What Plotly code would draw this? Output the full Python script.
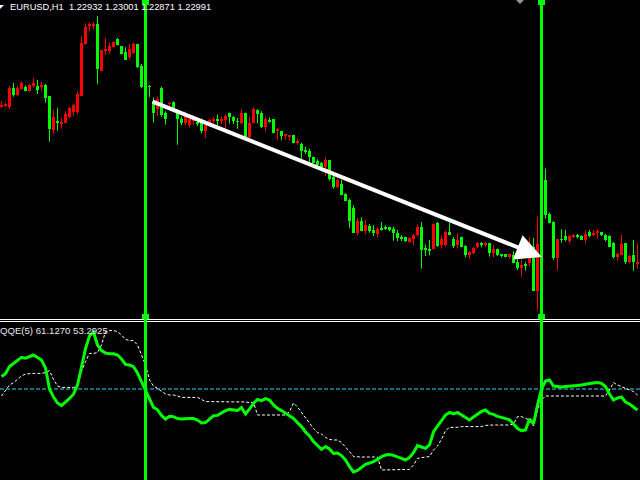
import plotly.graph_objects as go

# ---------------- data ----------------
HEADER_TEXT = "EURUSD,H1  1.22932 1.23001 1.22871 1.22991"
QQE_TEXT = "QQE(5) 61.1270 53.2925"

# price in points (1 point = 1 screen unit of the price scale)
open_ = [193.0, 194.0, 192.7, 212.0, 205.3, 211.0, 213.0, 209.3, 214.0, 214.0,
         212.7, 214.7, 204.0, 170.0, 178.0, 176.7, 177.3, 183.3, 188.0, 188.0,
         204.0, 256.0, 274.0, 274.0, 276.0, 229.3, 249.3, 249.3, 253.3, 260.7,
         254.0, 248.0, 243.3, 246.7, 256.0, 234.0, 214.0, 213.7, 199.5, 191.0,
         212.0, 186.7, 196.0, 198.0, 190.0, 180.7, 177.3, 174.7, 179.3, 178.0,
         180.0, 169.3, 176.7, 179.3, 180.0, 179.3, 180.0, 186.7, 182.7, 178.7,
         176.7, 187.3, 162.7, 177.3, 190.0, 187.3, 173.3, 180.0, 180.7, 169.3,
         169.3, 164.7, 163.3, 164.7, 157.3, 156.0, 150.0, 149.3, 142.7, 138.7,
         137.3, 133.3, 140.0, 122.7, 112.7, 116.0, 106.0, 100.0, 92.0, 67.3,
         78.7, 68.7, 74.0, 70.0, 66.0, 72.0, 72.7, 72.7, 71.3, 66.7,
         63.3, 62.7, 58.0, 61.3, 64.7, 73.3, 52.0, 51.3, 51.3, 76.7,
         54.7, 55.3, 68.0, 61.3, 54.7, 62.7, 54.0, 45.3, 47.3, 53.3,
         57.3, 54.7, 56.7, 46.7, 50.7, 46.0, 46.0, 43.3, 44.7, 38.0,
         32.0, 36.0, 36.7, 52.7, 9.3, 54.0, 120.0, 86.0, 78.0, 42.0,
         60.7, 64.0, 58.7, 63.3, 64.7, 64.0, 60.0, 68.0, 64.7, 66.7,
         68.0, 64.7, 64.0, 57.3, 43.3, 45.3, 56.7, 38.0, 44.7, 36.0]
high = [199.0, 197.0, 214.0, 217.0, 214.0, 218.7, 214.7, 216.0, 222.0, 220.0,
        218.0, 216.0, 204.0, 190.0, 192.0, 182.0, 188.7, 192.7, 196.7, 208.7,
        264.0, 276.7, 277.3, 278.0, 284.0, 250.0, 262.0, 257.3, 258.7, 262.0,
        254.0, 252.7, 256.0, 257.3, 256.0, 236.0, 216.0, 215.0, 202.5, 203.5,
        213.3, 188.7, 198.0, 198.7, 190.7, 183.3, 188.7, 182.0, 182.7, 181.0,
        181.3, 176.0, 181.3, 183.3, 185.3, 183.3, 185.3, 187.3, 184.0, 182.0,
        190.7, 187.3, 183.3, 192.7, 190.7, 188.7, 183.3, 182.7, 180.7, 172.0,
        169.3, 166.0, 164.7, 165.3, 161.3, 157.3, 153.3, 151.3, 143.3, 140.7,
        138.0, 142.7, 140.0, 126.7, 121.3, 120.0, 106.7, 101.3, 94.7, 82.0,
        82.7, 80.0, 76.0, 74.7, 72.7, 78.0, 74.7, 73.3, 73.3, 70.0,
        64.7, 63.3, 62.7, 66.0, 75.3, 78.0, 55.3, 60.0, 76.7, 78.0,
        64.7, 69.3, 77.3, 62.7, 66.7, 63.3, 54.7, 48.7, 53.3, 58.0,
        58.0, 58.0, 57.3, 54.7, 51.3, 46.0, 46.0, 46.7, 48.7, 44.7,
        42.7, 38.0, 62.7, 62.0, 83.3, 125.0, 131.3, 87.3, 78.7, 60.7,
        70.7, 70.0, 64.7, 66.0, 66.0, 64.7, 69.3, 70.0, 70.0, 70.7,
        68.0, 66.0, 64.7, 58.0, 47.3, 65.3, 56.7, 45.3, 60.0, 56.7]
low = [192.7, 193.3, 191.0, 203.3, 204.0, 210.7, 208.7, 208.0, 212.7, 206.0,
       209.3, 197.3, 158.3, 166.0, 169.3, 171.3, 176.7, 182.0, 184.0, 186.0,
       204.0, 255.3, 268.7, 270.7, 216.0, 229.3, 245.3, 246.0, 252.7, 254.7,
       245.3, 240.0, 240.7, 246.0, 232.0, 212.0, 208.0, 203.0, 177.5, 184.0,
       183.3, 175.3, 192.0, 189.3, 155.3, 174.7, 174.7, 172.7, 175.3, 174.0,
       166.7, 162.0, 173.3, 176.7, 174.7, 176.0, 170.0, 176.7, 176.0, 171.3,
       175.3, 162.0, 161.3, 177.3, 176.7, 172.0, 168.7, 177.3, 166.7, 160.0,
       160.0, 160.7, 159.3, 156.7, 155.3, 140.0, 146.0, 137.3, 136.7, 133.3,
       130.7, 124.0, 119.3, 111.3, 111.3, 104.7, 98.7, 72.0, 67.3, 64.7,
       68.7, 66.0, 67.3, 64.0, 62.7, 69.3, 70.0, 68.7, 59.3, 58.7,
       58.7, 58.0, 57.3, 54.7, 64.0, 31.3, 44.0, 44.7, 50.7, 53.3,
       51.3, 53.3, 64.7, 52.0, 51.3, 52.7, 42.7, 41.3, 46.0, 52.0,
       52.7, 53.3, 43.3, 42.7, 44.0, 42.7, 42.7, 41.3, 36.7, 30.0,
       23.3, 29.3, 34.0, 9.3, -10.0, 50.0, 81.3, 76.7, 40.0, 30.0,
       57.3, 58.7, 56.7, 62.0, 61.3, 60.0, 56.7, 62.7, 64.0, 61.3,
       64.0, 58.7, 52.7, 41.3, 39.3, 44.7, 36.0, 36.7, 29.3, 31.3]
close = [195.3, 196.0, 212.0, 205.3, 212.0, 217.0, 209.3, 214.7, 217.0, 210.0,
         214.7, 202.0, 171.3, 182.7, 177.3, 178.0, 186.0, 192.0, 194.7, 206.0,
         257.3, 272.7, 276.0, 276.0, 231.3, 250.0, 251.3, 254.0, 258.0, 255.3,
         246.0, 240.0, 250.7, 256.0, 232.7, 212.7, 210.0, 213.0, 187.3, 201.5,
         185.3, 181.3, 196.7, 190.0, 181.3, 176.7, 184.7, 180.7, 180.7, 176.0,
         168.7, 174.7, 180.0, 180.7, 179.3, 181.3, 184.0, 182.7, 178.7, 178.0,
         187.3, 162.7, 177.3, 190.7, 186.0, 172.7, 181.3, 178.7, 167.3, 170.0,
         164.0, 166.0, 164.7, 157.3, 159.3, 149.3, 148.7, 142.7, 137.3, 134.7,
         132.7, 140.0, 121.3, 112.7, 120.0, 105.3, 99.3, 78.7, 67.3, 78.7,
         69.3, 74.7, 69.3, 67.3, 70.7, 70.7, 71.3, 70.0, 66.7, 62.0,
         61.3, 58.7, 62.0, 64.7, 72.7, 50.0, 50.7, 49.3, 76.0, 54.0,
         61.3, 68.0, 65.3, 54.0, 60.0, 53.3, 45.3, 48.0, 52.0, 56.7,
         54.7, 56.7, 46.7, 51.3, 44.7, 44.7, 43.3, 46.0, 37.3, 32.0,
         35.3, 34.0, 42.7, 9.3, 56.0, 110.0, 85.3, 77.3, 42.0, 60.7,
         60.0, 60.0, 64.0, 64.7, 63.3, 60.0, 66.0, 64.0, 67.3, 68.7,
         64.7, 60.0, 53.3, 43.3, 46.0, 56.0, 38.0, 44.0, 38.0, 38.0]

qqe_rsi = [56.2, 57.6, 61.2, 62.7, 64.2, 65.8, 65.4, 66.2, 67.0, 65.8,
           64.5, 60.5, 50.0, 46.0, 43.0, 41.7, 43.4, 45.3, 47.4, 52.0,
           61.0, 70.2, 76.5, 78.5, 72.0, 69.2, 68.0, 67.6, 67.6, 67.0,
           65.0, 62.3, 62.0, 61.2, 58.0, 53.7, 48.7, 45.0, 40.8, 39.6,
           36.8, 35.0, 36.4, 36.2, 35.2, 35.0, 35.2, 35.2, 35.2, 34.5,
           33.0, 33.2, 34.9, 36.6, 36.8, 38.2, 39.2, 39.8, 39.5, 39.3,
           40.7, 37.5, 40.0, 42.8, 44.8, 44.2, 45.2, 44.5, 42.0, 40.3,
           39.2, 37.8, 36.5, 35.3, 33.2, 31.2, 28.5, 26.5, 23.7, 21.5,
           19.8, 21.2, 20.0, 17.8, 18.0, 16.7, 14.5, 11.2, 8.5, 9.3,
           10.8, 12.3, 13.0, 13.7, 14.8, 16.2, 17.0, 17.2, 16.8, 16.2,
           15.3, 14.5, 15.8, 18.2, 21.7, 21.0, 20.3, 22.0, 28.5, 31.5,
           34.0, 37.0, 38.3, 37.6, 38.3, 37.0, 35.8, 34.5, 36.0, 37.3,
           38.8, 39.5, 37.8, 37.3, 36.3, 35.8, 35.3, 34.6, 32.5, 30.2,
           29.2, 29.5, 35.0, 32.5, 42.0, 50.0, 54.0, 54.5, 51.5, 51.2,
           51.0, 51.2, 51.5, 51.8, 51.8, 52.0, 52.5, 52.7, 53.0, 53.2,
           52.8, 51.2, 47.5, 44.5, 45.5, 46.0, 43.5, 42.5, 41.0, 39.4]
qqe_trail = [46.5, 49.2, 52.0, 53.2, 54.8, 56.5, 57.5, 57.8, 57.8, 57.8,
             57.8, 58.2, 59.2, 54.8, 51.5, 50.8, 50.8, 50.8, 50.8, 51.2,
             58.7, 63.7, 67.8, 67.8, 68.2, 72.0, 78.7, 79.2, 79.2, 78.7,
             77.0, 74.8, 74.2, 74.2, 72.0, 67.0, 62.0, 54.5, 51.5, 50.3,
             48.7, 47.5, 47.0, 47.0, 46.5, 45.8, 45.8, 45.8, 45.8, 45.8,
             44.8, 43.7, 43.7, 43.7, 43.7, 43.7, 43.7, 43.7, 43.7, 43.7,
             43.7, 43.5, 43.2, 43.3, 37.0, 37.0, 37.0, 37.0, 37.0, 37.0,
             37.0, 37.0, 38.7, 43.0, 41.0, 38.2, 35.8, 32.8, 30.3, 28.2,
             27.5, 25.8, 24.8, 24.5, 24.5, 23.2, 21.2, 18.7, 16.2, 16.0,
             16.0, 16.0, 16.0, 16.0, 16.0, 9.5, 9.5, 9.8, 9.8, 9.8,
             9.8, 9.8, 9.8, 12.0, 15.3, 15.7, 15.8, 16.2, 19.5, 21.5,
             24.8, 29.2, 30.8, 30.8, 30.8, 31.2, 31.2, 31.2, 31.2, 31.2,
             31.2, 31.8, 32.0, 32.0, 32.0, 32.0, 32.0, 32.0, 32.5, 36.2,
             36.2, 35.3, 34.5, 31.5, 39.5, 44.5, 46.5, 46.5, 46.5, 46.5,
             46.5, 46.5, 46.5, 46.5, 46.5, 46.5, 46.5, 46.5, 46.5, 46.5,
             46.5, 46.5, 49.5, 53.2, 52.0, 51.2, 50.3, 49.8, 48.7, 47.0]
QQE_LEVEL = 50

VLINES = [36, 135]                 # bar index of the two vertical lines
ARROW_FROM = (37.4, 199.0)         # (bar, price point)
ARROW_TO = (135.1, 43.0)

# ---------------- styling ----------------
W, H = 640, 480
BULL = "#FF0000"
BEAR = "#00FF00"
LIME = "#00FF00"
FONT = "Liberation Sans"


def px(x):
    return x / W


def py(y):
    return 1 - y / H


bars = list(range(len(open_)))
is_bull = [c >= o for o, c in zip(open_, close)]
body_base = [min(o, c) for o, c in zip(open_, close)]
body_h = [max(abs(c - o), 1.0) for o, c in zip(open_, close)]
body_col = [BULL if b else BEAR for b in is_bull]

fig = go.Figure()

# wicks
for flag, col in ((True, BULL), (False, BEAR)):
    xs, ys = [], []
    for i in bars:
        if is_bull[i] == flag:
            xs += [i, i, None]
            ys += [low[i], high[i], None]
    fig.add_trace(go.Scatter(x=xs, y=ys, mode="lines", line=dict(color=col, width=1),
                             hoverinfo="skip", yaxis="y"))

# bodies
fig.add_trace(go.Bar(x=bars, y=body_h, base=body_base, width=0.75,
                     marker=dict(color=body_col, line=dict(width=0)),
                     hoverinfo="skip", yaxis="y"))

# QQE panel
fig.add_trace(go.Scatter(x=bars, y=qqe_trail, mode="lines", yaxis="y2",
                         line=dict(color="#FFFFFF", width=1, dash="3px,2px"),
                         hoverinfo="skip"))
fig.add_trace(go.Scatter(x=bars, y=qqe_rsi, mode="lines", yaxis="y2",
                         line=dict(color=LIME, width=3), hoverinfo="skip"))

shapes = []
# level line
shapes.append(dict(type="line", xref="paper", yref="y2", x0=0, x1=1,
                   y0=QQE_LEVEL, y1=QQE_LEVEL, layer="below",
                   line=dict(color="#30DCEC", width=1, dash="4px,2px")))
# window separator
for yy in (319.5, 321.5):
    shapes.append(dict(type="line", xref="paper", yref="paper", x0=0, x1=1,
                       y0=py(yy), y1=py(yy), line=dict(color="#FFFFFF", width=1)))
# vertical lines and their anchor squares
for v in VLINES:
    shapes.append(dict(type="line", xref="x", yref="paper", x0=v, x1=v, y0=0, y1=1,
                       line=dict(color=LIME, width=3), layer="above"))
    for y0, y1 in ((0, 5), (314, 319)):
        shapes.append(dict(type="rect", xref="x", yref="paper", x0=v - 0.875, x1=v + 0.875,
                           y0=py(y1), y1=py(y0), fillcolor=LIME, line=dict(width=0),
                           layer="above"))
# small marker at the top right and chart icon top left
shapes.append(dict(type="path", xref="paper", yref="paper",
                   path=f"M {px(516)},{py(0)} L {px(524)},{py(0)} L {px(520)},{py(4)} Z",
                   fillcolor="#8A96A6", line=dict(width=0)))
shapes.append(dict(type="path", xref="paper", yref="paper",
                   path=f"M {px(0)},{py(5)} L {px(4)},{py(5)} L {px(0)},{py(9)} Z",
                   fillcolor="#FFFFFF", line=dict(width=0)))

annotations = [
    dict(x=ARROW_TO[0], y=ARROW_TO[1], xref="x", yref="y",
         ax=ARROW_FROM[0], ay=ARROW_FROM[1], axref="x", ayref="y",
         text="", showarrow=True, arrowhead=2, arrowsize=1.3, arrowwidth=4,
         arrowcolor="#FFFFFF", standoff=0, startstandoff=0),
    dict(x=px(8), y=py(6.5), xref="paper", yref="paper", xanchor="left", yanchor="middle",
         text=HEADER_TEXT, showarrow=False,
         font=dict(family=FONT, size=9.3, color="#FFFFFF")),
    dict(x=px(-2), y=py(330.5), xref="paper", yref="paper", xanchor="left", yanchor="middle",
         text=QQE_TEXT, showarrow=False,
         font=dict(family=FONT, size=9.6, color="#E8E8E8")),
]

fig.update_layout(
    width=W, height=H,
    margin=dict(l=0, r=0, t=0, b=0, pad=0),
    paper_bgcolor="#000000", plot_bgcolor="#000000",
    showlegend=False, barmode="overlay", bargap=0,
    xaxis=dict(range=[-0.375, 159.625], visible=False, fixedrange=True),
    yaxis=dict(domain=[1 - 318 / H, 1], range=[-18, 300], visible=False, fixedrange=True),
    yaxis2=dict(domain=[0, 158 / H], range=[4.5, 83.5], visible=False, fixedrange=True,
                anchor="x"),
    shapes=shapes, annotations=annotations,
)

fig.write_html("out.html", config={"displayModeBar": False},
               post_script="document.body.style.margin='0';document.body.style.overflow='hidden';")
